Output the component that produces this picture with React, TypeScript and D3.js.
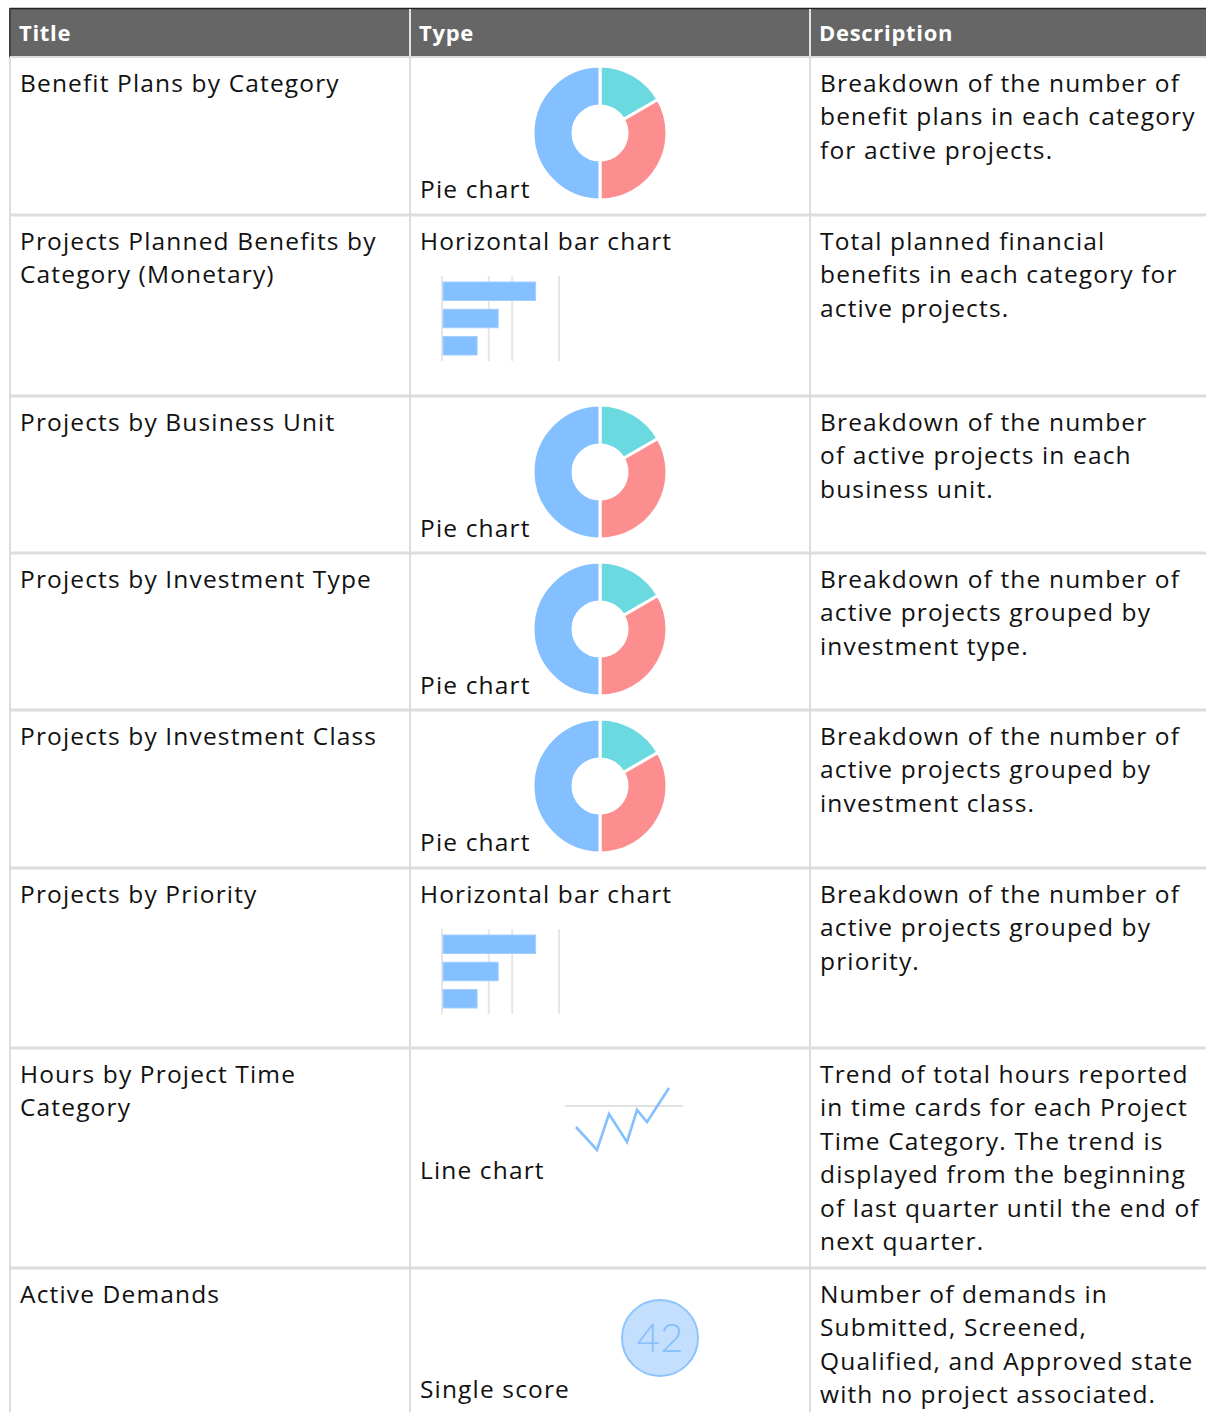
import React from "react";
import * as d3 from "d3";

// table content
const headers = ["Title", "Type", "Description"];
const titles = [
  ["Benefit Plans by Category"],
  ["Projects Planned Benefits by", "Category (Monetary)"],
  ["Projects by Business Unit"],
  ["Projects by Investment Type"],
  ["Projects by Investment Class"],
  ["Projects by Priority"],
  ["Hours by Project Time", "Category"],
  ["Active Demands"],
];
const types = [
  "Pie chart",
  "Horizontal bar chart",
  "Pie chart",
  "Pie chart",
  "Pie chart",
  "Horizontal bar chart",
  "Line chart",
  "Single score",
];
const descriptions = [
  ["Breakdown of the number of", "benefit plans in each category", "for active projects."],
  ["Total planned financial", "benefits in each category for", "active projects."],
  ["Breakdown of the number", "of active projects in each", "business unit."],
  ["Breakdown of the number of", "active projects grouped by", "investment type."],
  ["Breakdown of the number of", "active projects grouped by", "investment class."],
  ["Breakdown of the number of", "active projects grouped by", "priority."],
  [
    "Trend of total hours reported",
    "in time cards for each Project",
    "Time Category. The trend is",
    "displayed from the beginning",
    "of last quarter until the end of",
    "next quarter.",
  ],
  ["Number of demands in", "Submitted, Screened,", "Qualified, and Approved state", "with no project associated."],
];

// icon data
const pieValues = [1, 2, 3];
const pieColors = ["#6bd9e0", "#fd8e8f", "#84bfff"];
const barCategories = ["A", "B", "C"];
const barValues = [4, 2.4, 1.5];
const barTicks = [0, 2, 3, 5];
const lineXs = [0, 21, 33, 51, 61, 71, 93];
const lineValues = [79, 56, 92, 64, 96, 84, 118];
const lineReference = 100;
const scoreValue = 42;

const rowEdges = [57, 215, 396, 553, 710, 868, 1048, 1268, 1430];
const colEdges = [10, 410, 810, 1206];
const FONT = "'Open Sans', Lato, sans-serif";
const LINE_H = 33.4;

function Pie({ cx, cy }: { cx: number; cy: number }) {
  const arcs = d3.pie<number>().sort(null)(pieValues);
  const arc = d3.arc<d3.PieArcDatum<number>>().innerRadius(27).outerRadius(67);
  return (
    <g transform={`translate(${cx},${cy})`}>
      {arcs.map((a, i) => (
        <path key={i} d={arc(a) || ""} fill={pieColors[i]} stroke="#fff" strokeWidth={3} />
      ))}
    </g>
  );
}

function Bars({ top }: { top: number }) {
  const x = d3.scaleLinear().domain([0, 5]).range([442, 559]);
  const y = d3.scaleBand().domain(barCategories).range([top + 67, top + 140]).paddingInner(0.32);
  return (
    <g>
      {barTicks.map((t) => (
        <line key={t} x1={x(t)} x2={x(t)} y1={top + 61} y2={top + 146} stroke="#e6e6e6" strokeWidth={2} />
      ))}
      {barCategories.map((c, i) => (
        <rect
          key={c}
          x={x(0) + 1}
          y={y(c)}
          width={x(barValues[i]) - x(0) - 1}
          height={y.bandwidth()}
          fill="#84bfff"
          stroke="#a3cfff"
          strokeWidth={1}
        />
      ))}
    </g>
  );
}

function Trend({ top }: { top: number }) {
  const x = d3.scaleLinear().domain([0, 93]).range([576, 669]);
  const y = d3.scaleLinear().domain([lineReference - 50, lineReference + 20]).range([top + 108, top + 38]);
  const line = d3
    .line<number>()
    .x((_, i) => x(lineXs[i]))
    .y((d) => y(d));
  return (
    <g>
      <line x1={x(-11)} x2={x(107)} y1={y(lineReference)} y2={y(lineReference)} stroke="#e2e2e2" strokeWidth={2} />
      <path d={line(lineValues) || ""} fill="none" stroke="#84bfff" strokeWidth={2.6} strokeLinejoin="miter" />
    </g>
  );
}

function Score({ top }: { top: number }) {
  return (
    <g>
      <circle cx={660} cy={top + 70} r={38} fill="#c4defd" stroke="#8ec4fd" strokeWidth={2} />
      <text
        x={660}
        y={top + 84}
        textAnchor="middle"
        fontFamily="Lato, sans-serif"
        fontWeight={300}
        fontSize={40}
        fill="#86c0fd"
      >
        {scoreValue}
      </text>
    </g>
  );
}

export default function App() {
  return (
    <svg
      width={1206}
      height={1412}
      style={{ position: "absolute", left: 0, top: 0, background: "#fff" }}
    >
      {/* header */}
      <rect x={10} y={8} width={1196} height={49} fill="#666666" />
      <line x1={10} x2={1206} y1={8.5} y2={8.5} stroke="#222" strokeWidth={1.5} />
      <line x1={10} x2={10} y1={8} y2={57} stroke="#444" strokeWidth={2} />
      {headers.map((h, i) => (
        <text
          key={h}
          x={colEdges[i] + 9}
          y={41}
          fontFamily={FONT}
          fontWeight={700}
          fontSize={22}
          letterSpacing={0.7}
          fill="#fff"
        >
          {h}
        </text>
      ))}
      {[410, 810].map((x) => (
        <line key={x} x1={x} x2={x} y1={9} y2={57} stroke="#e0e0e0" strokeWidth={2} />
      ))}

      {/* grid */}
      {rowEdges.slice(0, -1).map((y, i) => (
        <line key={i} x1={10} x2={1206} y1={y} y2={y} stroke="#dddddd" strokeWidth={i === 0 ? 2 : 3} />
      ))}
      {[10, 410, 810].map((x) => (
        <line key={x} x1={x} x2={x} y1={57} y2={1412} stroke="#dddddd" strokeWidth={2} />
      ))}

      {titles.map((lines, r) => {
        const top = rowEdges[r];
        const t = types[r];
        let typeY = top + 35;
        if (t === "Pie chart") typeY = top + 141;
        if (t === "Line chart") typeY = top + 131;
        if (t === "Single score") typeY = top + 130;
        return (
          <g key={r}>
            {t === "Pie chart" && <Pie cx={600} cy={top + 76} />}
            {t === "Horizontal bar chart" && <Bars top={top} />}
            {t === "Line chart" && <Trend top={top} />}
            {t === "Single score" && <Score top={top} />}
            <g fontFamily={FONT} fontSize={24.5} fill="#111" letterSpacing={1.15}>
              {lines.map((s, j) => (
                <text key={j} x={20} y={top + 35 + j * LINE_H}>
                  {s}
                </text>
              ))}
              <text x={420} y={typeY}>
                {t}
              </text>
              {descriptions[r].map((s, j) => (
                <text key={j} x={820} y={top + 35 + j * LINE_H}>
                  {s}
                </text>
              ))}
            </g>
          </g>
        );
      })}
    </svg>
  );
}
